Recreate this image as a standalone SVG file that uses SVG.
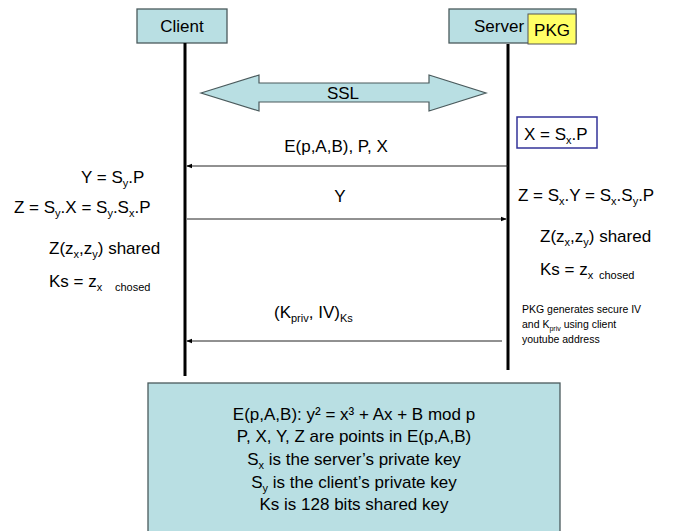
<svg xmlns="http://www.w3.org/2000/svg" width="675" height="531" viewBox="0 0 675 531">
<defs>
<style>
text{font-family:"Liberation Sans",Arial,sans-serif;fill:#000}
.t{font-size:17px}
.s{font-size:11px}
.n{font-size:10.5px}
.box{fill:#b9dfe3;stroke:#4a5a5c;stroke-width:1.3}
.life{stroke:#000;stroke-width:3}
.msg{stroke:#222;stroke-width:1;fill:none}
</style>
<marker id="ah" viewBox="0 0 8 8" refX="7" refY="4" markerWidth="6" markerHeight="6" orient="auto" markerUnits="userSpaceOnUse">
<path d="M0,1 L8,4 L0,7 z" fill="#000"/>
</marker>
</defs>
<rect width="675" height="531" fill="#fff"/>

<g id="client">
<rect class="box" x="137" y="9" width="90" height="34"/>
<text class="t" x="182" y="32" text-anchor="middle">Client</text>
</g>
<g id="server">
<rect class="box" x="449" y="9" width="127" height="34"/>
<text class="t" x="474" y="32">Server</text>
</g>
<g id="pkg">
<rect x="528" y="14" width="48" height="30" fill="#ffff66" stroke="#555" stroke-width="1"/>
<text class="t" x="552" y="36" text-anchor="middle">PKG</text>
</g>

<g id="connectors">
<line class="life" x1="185" y1="43" x2="185" y2="376"/>
<line class="life" x1="508" y1="44" x2="508" y2="370"/>
<line class="msg" x1="508" y1="166" x2="187" y2="166" marker-end="url(#ah)"/>
<line class="msg" x1="187" y1="219" x2="506" y2="219" marker-end="url(#ah)"/>
<line class="msg" x1="502" y1="341" x2="187" y2="341" marker-end="url(#ah)"/>
</g>

<g id="ssl">
<path d="M201,93 L259,75 L259,83 L429,83 L429,75 L486,93 L429,111 L429,102 L259,102 L259,111 Z" fill="#b9dfe3" stroke="#4a5a5c" stroke-width="1.2"/>
<text class="t" x="343" y="99" text-anchor="middle">SSL</text>
</g>

<g id="labels">
<text class="t" x="336" y="152" text-anchor="middle">E(p,A,B), P, X</text>
<text class="t" x="340" y="202" text-anchor="middle">Y</text>
<text class="t" x="274" y="318">(K<tspan class="s" dy="4">priv</tspan><tspan dy="-4">, IV)</tspan><tspan class="s" dy="4">Ks</tspan></text>
</g>

<g id="xbox">
<rect x="517" y="117" width="80" height="31" fill="#fff" stroke="#333399" stroke-width="1.5"/>
<text class="t" x="524" y="140">X = S<tspan class="s" dy="4">x</tspan><tspan dy="-4">.P</tspan></text>
</g>

<g id="client-notes">
<text class="t" x="81" y="183">Y = S<tspan class="s" dy="4">y</tspan><tspan dy="-4">.P</tspan></text>
<text class="t" x="14" y="213">Z = S<tspan class="s" dy="4">y</tspan><tspan dy="-4">.X = S</tspan><tspan class="s" dy="4">y</tspan><tspan dy="-4">.S</tspan><tspan class="s" dy="4">x</tspan><tspan dy="-4">.P</tspan></text>
<text class="t" x="49" y="254">Z(z<tspan class="s" dy="4">x</tspan><tspan dy="-4">,z</tspan><tspan class="s" dy="4">y</tspan><tspan dy="-4">) shared</tspan></text>
<text class="t" x="49" y="287">Ks = z<tspan class="s" dy="4">x</tspan></text>
<text class="s" x="115" y="291">chosed</text>
</g>

<g id="server-notes">
<text class="t" x="518" y="201">Z = S<tspan class="s" dy="4">x</tspan><tspan dy="-4">.Y = S</tspan><tspan class="s" dy="4">x</tspan><tspan dy="-4">.S</tspan><tspan class="s" dy="4">y</tspan><tspan dy="-4">.P</tspan></text>
<text class="t" x="540" y="242">Z(z<tspan class="s" dy="4">x</tspan><tspan dy="-4">,z</tspan><tspan class="s" dy="4">y</tspan><tspan dy="-4">) shared</tspan></text>
<text class="t" x="540" y="275">Ks = z<tspan class="s" dy="4">x</tspan></text>
<text class="s" x="599" y="279">chosed</text>
<text class="n" x="522" y="313">PKG generates secure IV</text>
<text class="n" x="522" y="328">and K<tspan font-size="7" dy="3">priv</tspan><tspan dy="-3"> using client</tspan></text>
<text class="n" x="522" y="343">youtube address</text>
</g>

<g id="legend">
<rect class="box" x="148" y="383" width="412" height="160"/>
<text class="t" x="354" y="420" text-anchor="middle">E(p,A,B): y² = x³ + Ax + B mod p</text>
<text class="t" x="354" y="442" text-anchor="middle">P, X, Y, Z are points in E(p,A,B)</text>
<text class="t" x="354" y="465" text-anchor="middle">S<tspan class="s" dy="4">x</tspan><tspan dy="-4"> is the server’s private key</tspan></text>
<text class="t" x="354" y="488" text-anchor="middle">S<tspan class="s" dy="4">y</tspan><tspan dy="-4"> is the client’s private key</tspan></text>
<text class="t" x="354" y="510" text-anchor="middle">Ks is 128 bits shared key</text>
</g>
</svg>
